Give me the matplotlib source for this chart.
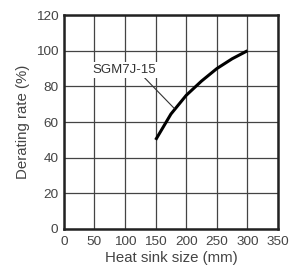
import matplotlib
matplotlib.use("Agg")
import matplotlib.pyplot as plt

plt.rcParams["font.family"] = ["Liberation Sans", "DejaVu Sans"]

# Derating curve
sink_size = [150, 175, 200, 225, 250, 275, 300]
derating = [50, 64.5, 75, 83, 90, 95.5, 100]

x_ticks = [0, 50, 100, 150, 200, 250, 300, 350]
y_ticks = [0, 20, 40, 60, 80, 100, 120]

fig = plt.figure(figsize=(2.89, 2.70), dpi=100)
ax = fig.add_axes([0.221, 0.152, 0.741, 0.792])

ax.plot(sink_size, derating, color="black", lw=2.2, solid_capstyle="butt")

ax.set_xlim(0, 350)
ax.set_ylim(0, 120)
ax.set_xticks(x_ticks)
ax.set_yticks(y_ticks)
ax.grid(True, color="#444444", lw=0.9)
ax.set_axisbelow(True)
ax.tick_params(length=0, labelsize=9.7, labelcolor="#444444")
ax.tick_params(axis="x", pad=5)
ax.tick_params(axis="y", pad=4)
for s in ax.spines.values():
    s.set_linewidth(1.8)
    s.set_color("#222222")

ax.set_xlabel("Heat sink size (mm)", fontsize=10.8, color="#444444", labelpad=2)
ax.set_ylabel("Derating rate (%)", fontsize=10.8, color="#444444", labelpad=4)

# label with leader line
ax.text(98, 89, "SGM7J-15", fontsize=9.5, color="#333333", ha="center", va="center",
        bbox=dict(boxstyle="square,pad=0.15", fc="white", ec="none"))
ax.plot([127.5, 180], [86.4, 67.8], color="#333333", lw=0.8)

fig.savefig("out.png", dpi=100)
